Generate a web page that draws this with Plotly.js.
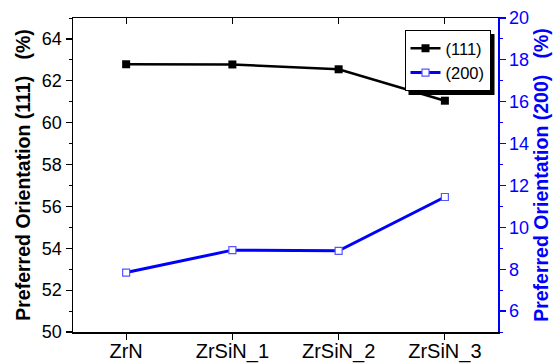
<!DOCTYPE html>
<html><head><meta charset="utf-8">
<script src="https://cdn.plot.ly/plotly-3.0.1.min.js"></script>
<style>html,body{margin:0;padding:0;background:#fff}#c{width:556px;height:364px}</style>
</head><body><div id="c"></div>
<script>
const categories = ['ZrN', 'ZrSiN_1', 'ZrSiN_2', 'ZrSiN_3'];
const po111 = [62.79, 62.78, 62.55, 61.05];
const po200 = [7.84, 8.91, 8.88, 11.45];
const xIdx = categories.map((c, i) => i);

const FONT = 'Liberation Sans, Arial, sans-serif';
const LEG_X = 0.78, LEG_Y = 0.962;
const traces = [
  {x: xIdx, y: po111, name: '(111)', type: 'scatter', mode: 'lines+markers',
   line: {color: '#000', width: 2.5}, marker: {symbol: 'square', size: 8, color: '#000'},
   xaxis: 'x', yaxis: 'y'},
  {x: xIdx, y: po200, name: '(200)', type: 'scatter', mode: 'lines+markers',
   line: {color: '#0000ff', width: 3}, marker: {symbol: 'square', size: 7, color: '#fff', line: {color: '#5555ff', width: 1.2}},
   xaxis: 'x', yaxis: 'y2'},
  {x: xIdx, y: [null, null, null, null], showlegend: false, hoverinfo: 'skip', mode: 'lines',
   xaxis: 'x2', yaxis: 'y'}
];
const layout = {
  width: 556, height: 364,
  margin: {l: 73, r: 58, t: 18, b: 32},
  paper_bgcolor: '#fff', plot_bgcolor: '#fff',
  font: {family: FONT, size: 18, color: '#000'},
  showlegend: true,
  legend: {x: LEG_X, y: LEG_Y, xanchor: 'left', yanchor: 'top', bgcolor: '#fff',
           bordercolor: '#000', borderwidth: 1, font: {size: 16.5, family: FONT},
           tracegroupgap: 0, itemwidth: 30},
  xaxis: {range: [-0.5, 3.5], tickmode: 'array', tickvals: xIdx, ticktext: categories,
          showgrid: false, zeroline: false, showline: true, linecolor: '#000', linewidth: 1.5,
          ticks: 'outside', ticklen: 6, tickwidth: 1.2, tickcolor: '#000',
          ticklabelstandoff: -6,
          tickfont: {size: 20, family: FONT}},
  xaxis2: {overlaying: 'x', side: 'top', range: [-0.5, 3.5], tickmode: 'array', tickvals: xIdx,
           showticklabels: false, showgrid: false, zeroline: false, showline: true,
           linecolor: '#000', linewidth: 1.5, ticks: 'inside', ticklen: 6, tickwidth: 1.2, tickcolor: '#000'},
  yaxis: {range: [50, 65], dtick: 2, tick0: 50, showgrid: false, zeroline: false,
          showline: true, linecolor: '#000', linewidth: 1.5,
          ticks: 'outside', ticklen: 6, tickwidth: 1.2, tickcolor: '#000',
          minor: {dtick: 1, ticks: 'outside', ticklen: 3, tickcolor: '#000', tickwidth: 1},
          tickfont: {size: 18, family: FONT},
          title: {text: 'Preferred Orientation (111)\u00a0\u00a0\u00a0(%)', standoff: 6,
                  font: {size: 19.5, family: FONT, weight: 'bold', color: '#000'}}},
  yaxis2: {overlaying: 'y', side: 'right', range: [5, 20], dtick: 2, tick0: 6,
           showgrid: false, zeroline: false, showline: true, linecolor: '#0000ff', linewidth: 1.5,
           ticks: 'outside', ticklen: 6, tickwidth: 1.2, tickcolor: '#0000ff',
           minor: {dtick: 1, ticks: 'outside', ticklen: 3, tickcolor: '#0000ff', tickwidth: 1},
           tickfont: {size: 18, family: FONT, color: '#0000ff'},
           title: {text: 'Preferred Orientation (200)\u00a0\u00a0\u00a0(%)', standoff: 6,
                   font: {size: 19.5, family: FONT, weight: 'bold', color: '#0000ff'}}}
};
Plotly.newPlot('c', traces, layout, {displayModeBar: false, staticPlot: true}).then(gd => {
  // legend drop shadow, sized from the rendered legend box
  const fl = gd._fullLayout, lg = fl.legend, fs = fl._size;
  const w = lg._width, h = lg._height;
  if (!w || !h) return;
  const off = 4;
  Plotly.relayout(gd, {shapes: [{type: 'rect', xref: 'paper', yref: 'paper',
    x0: LEG_X + off / fs.w, x1: LEG_X + (w + off) / fs.w,
    y0: LEG_Y - (h + off) / fs.h, y1: LEG_Y - off / fs.h,
    fillcolor: '#000', line: {width: 0}, layer: 'below'}]});
});
</script></body></html>
